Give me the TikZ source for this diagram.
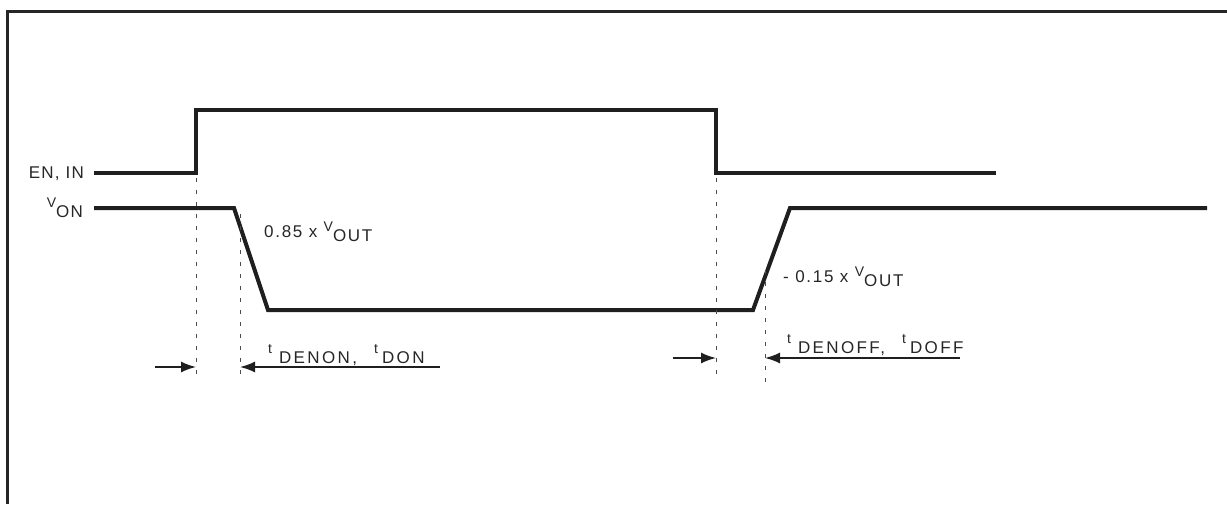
\documentclass[tikz,border=0pt]{standalone}
\usepackage{fontspec}
\setmainfont{Liberation Sans}[LetterSpace=7]
\usetikzlibrary{arrows.meta}
\newcommand\vsub[2]{\raisebox{10pt}{\fontsize{14}{15}\selectfont #1}#2}
\tikzset{
  wave/.style={line width=4pt, line join=miter, color=black!88},
  frame/.style={line width=3pt, color=black!85},
  guide/.style={line width=1pt, dash pattern=on 4pt off 8pt, color=black!70},
  dim/.style={line width=1.6pt, color=black!88},
  tip/.style={-{Latex[length=15pt,width=11pt]}},
  lbl/.style={font=\fontsize{17}{19}\selectfont, inner sep=0pt, color=black!85},
  wide/.style={font=\fontsize{17}{19}\selectfont\addfontfeature{LetterSpace=14}},
  mid/.style={font=\fontsize{17}{19}\selectfont\addfontfeature{LetterSpace=10}}
}
\begin{document}
\begin{tikzpicture}[x=1pt,y=-1pt]
\useasboundingbox (0,0) rectangle (1227,504);
% frame
\draw[frame] (7,504) -- (7,11) -- (1227,11);
% EN, IN waveform
\coordinate (e0) at (94,173);
\coordinate (e1) at (196,173);
\coordinate (e2) at (196,110);
\coordinate (e3) at (716,110);
\coordinate (e4) at (716,173);
\coordinate (e5) at (996,173);
\draw[wave] (e0) -- (e1) -- (e2) -- (e3) -- (e4) -- (e5);
% V_ON waveform
\coordinate (v0) at (94,208);
\coordinate (v1) at (234,208);
\coordinate (v2) at (268,310);
\coordinate (v3) at (753,310);
\coordinate (v4) at (790,208);
\coordinate (v5) at (1207,208);
\draw[wave] (v0) -- (v1) -- (v2) -- (v3) -- (v4) -- (v5);
% guides
\coordinate (g1a) at (196,178); \coordinate (g1b) at (196,376);
\coordinate (g2a) at (240,214); \coordinate (g2b) at (240,376);
\coordinate (g3a) at (716,178); \coordinate (g3b) at (716,380);
\coordinate (g4a) at (765,270); \coordinate (g4b) at (765,382);
\draw[guide] (g1a) -- (g1b);
\draw[guide] (g2a) -- (g2b);
\draw[guide] (g3a) -- (g3b);
\draw[guide] (g4a) -- (g4b);
% dimension arrows
\coordinate (a1s) at (155,367); \coordinate (a1e) at (196,367);
\coordinate (a2s) at (440,367); \coordinate (a2e) at (240,367);
\coordinate (a3s) at (673,358); \coordinate (a3e) at (716,358);
\coordinate (a4s) at (960,358); \coordinate (a4e) at (765,358);
\draw[dim,tip] (a1s) -- (a1e);
\draw[dim,tip] (a2s) -- (a2e);
\draw[dim,tip] (a3s) -- (a3e);
\draw[dim,tip] (a4s) -- (a4e);
% labels
\node[lbl, anchor=base east] (len) at (84,178) {EN, IN};
\node[lbl, anchor=base east] (lvon) at (83,217) {\vsub{V}{ON}};
\node[lbl, mid, anchor=base west] (l085) at (264,237) {0.85 x \raisebox{-4pt}{\vsub{V}{OUT}}};
\node[lbl, mid, anchor=base west] (l015) at (783,282) {- 0.15 x \raisebox{-4pt}{\vsub{V}{OUT}}};
\node[lbl, wide, anchor=base west] (lon) at (268,363) {\vsub{t}{\hspace{7pt}DENON}, \hspace{10pt}\vsub{t}{\hspace{4pt}DON}};
\node[lbl, wide, anchor=base west] (loff) at (787,353) {\vsub{t}{\hspace{7pt}DENOFF}, \hspace{10pt}\vsub{t}{\hspace{4pt}DOFF}};
\end{tikzpicture}
\end{document}
